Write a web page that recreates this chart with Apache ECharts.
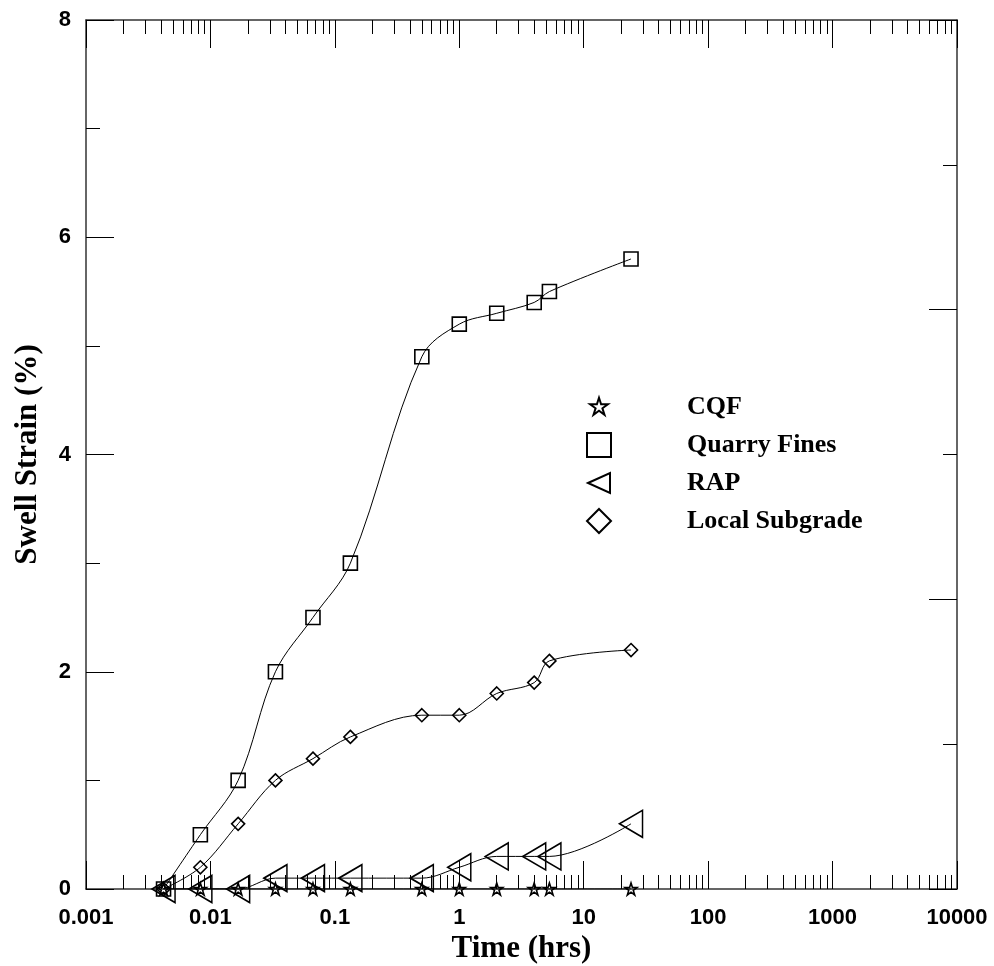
<!DOCTYPE html>
<html>
<head>
<meta charset="utf-8">
<script src="https://cdn.jsdelivr.net/npm/echarts@6/dist/echarts.min.js"></script>
<style>
  html, body { margin: 0; padding: 0; background: #fff; }
  #chart { width: 994px; height: 966px; }
</style>
</head>
<body>
<div id="chart"></div>
<script>
// Elapsed time of each swell reading (hours)
const times = [0.0042, 0.0083, 0.0167, 0.0333, 0.0667, 0.1333, 0.5, 1, 2, 4, 5.3, 24];

// Swell strain (%) per material
const cqf           = [0, 0, 0, 0, 0, 0, 0, 0, 0, 0, 0, 0];
const quarryFines   = [0, 0.5, 1.0, 2.0, 2.5, 3.0, 4.9, 5.2, 5.3, 5.4, 5.5, 5.8];
const rap           = [0, 0, 0, 0.1, 0.1, 0.1, 0.1, 0.2, 0.3, 0.3, 0.3, 0.6];
const localSubgrade = [0, 0.2, 0.6, 1.0, 1.2, 1.4, 1.6, 1.6, 1.8, 1.9, 2.1, 2.2];

// Axis tick labels
const decadeLabels = ['0.001', '0.01', '0.1', '1', '10', '100', '1000', '10000'];
const decadeExponents = [-3, -2, -1, 0, 1, 2, 3, 4];
const minorSteps = [2, 3, 4, 5, 6, 7, 8, 9];

// minor log ticks, expressed as log10 positions
const minorLogTicks = [];
decadeExponents.slice(0, -1).forEach(function (e) {
  minorSteps.forEach(function (m) { minorLogTicks.push(e + Math.log10(m)); });
});

const STAR = 'path://M50,2 L61.2,36.5 L97.6,36.5 L68.2,57.9 L79.4,92.5 L50,71.1 L20.6,92.5 L31.8,57.9 L2.4,36.5 L38.8,36.5 Z';
const STAR_LEGEND = 'path://M-14,-12 M114,114 M50,2 L61.2,36.5 L97.6,36.5 L68.2,57.9 L79.4,92.5 L50,71.1 L20.6,92.5 L31.8,57.9 L2.4,36.5 L38.8,36.5 Z';
const LEFT_TRIANGLE_LEGEND = 'path://M-5,-10 M115,110 M0,50 L110,0 L110,100 Z';

const SANS = 'Liberation Sans';
const SERIF = 'Liberation Serif';
const AXIS_LINE = { show: true, onZero: false, lineStyle: { color: '#333', width: 1.5 } };

function pairs(ys) { return times.map(function (t, i) { return [t, ys[i]]; }); }

const markerStyle = { color: 'rgba(0,0,0,0)', borderColor: '#000', borderWidth: 1.6 };
const curveStyle = { color: '#000', width: 1 };
const legendMarker = { color: 'rgba(0,0,0,0)', borderColor: '#000', borderWidth: 2 };

function makeSeries(name, ys, symbol, size, rotate) {
  return {
    name: name,
    type: 'line',
    xAxisIndex: 0,
    yAxisIndex: 0,
    data: pairs(ys),
    smooth: 0.35,
    symbol: symbol,
    symbolSize: size,
    symbolRotate: rotate || 0,
    showAllSymbol: true,
    itemStyle: markerStyle,
    lineStyle: curveStyle,
    emphasis: { disabled: true },
    animation: false
  };
}

const chart = echarts.init(document.getElementById('chart'), null, { renderer: 'canvas' });

chart.setOption({
  backgroundColor: '#fff',
  animation: false,
  grid: { left: 86, right: 37, top: 20, bottom: 77, containLabel: false, outerBoundsMode: 'none' },
  xAxis: [
    {
      type: 'log', position: 'bottom', min: 0.001, max: 10000, logBase: 10, splitNumber: 7,
      name: 'Time (hrs)', nameLocation: 'middle', nameGap: 44,
      nameTextStyle: { fontFamily: SERIF, fontWeight: 'bold', fontSize: 31, color: '#000' },
      axisLine: AXIS_LINE,
      axisTick: { show: true, inside: true, length: 28, lineStyle: { color: '#000', width: 1 } },
      axisLabel: {
        show: true, margin: 18, color: '#000', fontFamily: SANS, fontWeight: 'bold', fontSize: 22,
        formatter: function (v) {
          const i = decadeExponents.indexOf(Math.round(Math.log10(v)));
          return i >= 0 ? decadeLabels[i] : '';
        }
      },
      splitLine: { show: false }
    },
    {
      type: 'value', position: 'bottom', min: -3, max: 4,
      axisLine: { show: false, onZero: false },
      axisTick: { show: true, inside: true, length: 14, customValues: minorLogTicks, lineStyle: { color: '#000', width: 1 } },
      axisLabel: { show: false },
      splitLine: { show: false }
    },
    {
      type: 'log', position: 'top', min: 0.001, max: 10000, logBase: 10, splitNumber: 7,
      axisLine: AXIS_LINE,
      axisTick: { show: true, inside: true, length: 28, lineStyle: { color: '#000', width: 1 } },
      axisLabel: { show: false },
      splitLine: { show: false }
    },
    {
      type: 'value', position: 'top', min: -3, max: 4,
      axisLine: { show: false, onZero: false },
      axisTick: { show: true, inside: true, length: 14, customValues: minorLogTicks, lineStyle: { color: '#000', width: 1 } },
      axisLabel: { show: false },
      splitLine: { show: false }
    }
  ],
  yAxis: [
    {
      type: 'value', position: 'left', min: 0, max: 8, interval: 2,
      name: 'Swell Strain (%)', nameLocation: 'middle', nameGap: 43,
      nameTextStyle: { fontFamily: SERIF, fontWeight: 'bold', fontSize: 31, color: '#000' },
      axisLine: AXIS_LINE,
      axisTick: { show: true, inside: true, length: 28, lineStyle: { color: '#000', width: 1 } },
      minorTick: { show: true, splitNumber: 2, length: 14, lineStyle: { color: '#000', width: 1 } },
      axisLabel: { show: true, margin: 15, color: '#000', fontFamily: SANS, fontWeight: 'bold', fontSize: 22 },
      splitLine: { show: false },
      minorSplitLine: { show: false }
    },
    {
      type: 'value', position: 'right', min: 0, max: 6, interval: 2,
      axisLine: AXIS_LINE,
      axisTick: { show: true, inside: true, length: 28, lineStyle: { color: '#000', width: 1 } },
      minorTick: { show: true, splitNumber: 2, length: 14, lineStyle: { color: '#000', width: 1 } },
      axisLabel: { show: false },
      splitLine: { show: false },
      minorSplitLine: { show: false }
    }
  ],
  legend: {
    orient: 'vertical',
    left: 581,
    top: 389,
    itemWidth: 24,
    itemHeight: 24,
    itemGap: 12,
    selectedMode: false,
    textStyle: { fontFamily: SERIF, fontWeight: 'bold', fontSize: 26, color: '#000', padding: [0, 0, 0, 71] },
    data: [
      { name: 'CQF', icon: STAR_LEGEND, itemStyle: legendMarker },
      { name: 'Quarry Fines', icon: 'rect', itemStyle: legendMarker },
      { name: 'RAP', icon: LEFT_TRIANGLE_LEGEND, itemStyle: legendMarker },
      { name: 'Local Subgrade', icon: 'diamond', itemStyle: legendMarker }
    ]
  },
  series: [
    makeSeries('CQF', cqf, STAR, 12, 0),
    makeSeries('Quarry Fines', quarryFines, 'rect', 14, 0),
    makeSeries('RAP', rap, 'triangle', [27, 23], 90),
    makeSeries('Local Subgrade', localSubgrade, 'diamond', 13, 0)
  ]
});
</script>
</body>
</html>
